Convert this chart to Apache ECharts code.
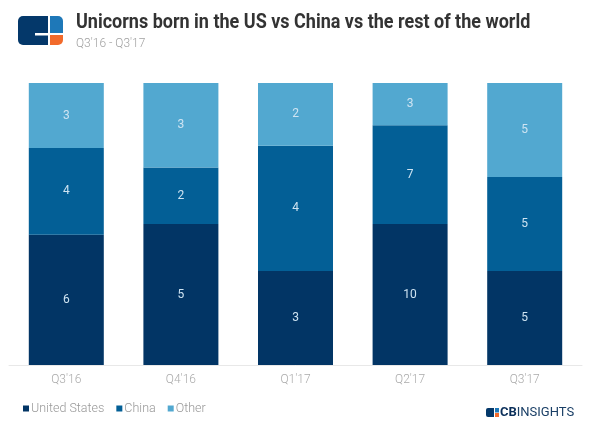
<!DOCTYPE html>
<html>
<head>
<meta charset="utf-8">
<script src="https://cdn.jsdelivr.net/npm/echarts@6/dist/echarts.min.js"></script>
<style>
html, body { margin: 0; padding: 0; background: #fff; }
#main { width: 600px; height: 435px; }
</style>
</head>
<body>
<div id="main"></div>
<script>
var quarters = ["Q3'16", "Q4'16", "Q1'17", "Q2'17", "Q3'17"];
var usValues = [6, 5, 3, 10, 5];
var chinaValues = [4, 2, 4, 7, 5];
var otherValues = [3, 3, 2, 3, 5];

var totals = quarters.map(function (q, i) {
    return usValues[i] + chinaValues[i] + otherValues[i];
});

// share of each quarter, so every bar fills the full height
function toShare(values) {
    return values.map(function (v, i) {
        return { value: v / totals[i], raw: v };
    });
}

var chart = echarts.init(document.getElementById('main'));

function makeSeries(name, values, color) {
    return {
        name: name,
        type: 'bar',
        stack: 'all',
        barWidth: 75,
        itemStyle: { color: color },
        label: {
            show: true,
            position: 'inside',
            color: '#cfe4f2',
            fontSize: 12,
            fontFamily: 'Roboto',
            formatter: function (p) { return p.data.raw; }
        },
        data: toShare(values)
    };
}

var option = {
    animation: false,
    textStyle: { fontFamily: 'Roboto' },
    grid: { left: 9, right: 18, top: 83, bottom: 70, containLabel: false },
    legend: {
        left: 18,
        top: 397,
        icon: 'rect',
        itemWidth: 6,
        itemHeight: 6,
        itemGap: 12,
        textStyle: { color: '#999', fontSize: 12.5, fontWeight: 300, fontFamily: 'Roboto', padding: [0, 0, 0, -3] },
        data: ['United States', 'China', 'Other']
    },
    xAxis: {
        type: 'category',
        data: quarters,
        axisLine: { lineStyle: { color: '#e8e8e8' } },
        axisTick: { show: false },
        axisLabel: { color: '#aaa', fontSize: 12, fontWeight: 300, margin: 9 }
    },
    yAxis: {
        type: 'value',
        min: 0,
        max: 1,
        show: false
    },
    series: [
        makeSeries('United States', usValues, '#023565'),
        makeSeries('China', chinaValues, '#035f96'),
        makeSeries('Other', otherValues, '#52a8d0')
    ],
    graphic: [
        // header logo
        { type: 'rect', shape: { x: 18, y: 16, width: 30, height: 29, r: [5, 0, 0, 5] }, style: { fill: '#04386a' } },
        { type: 'rect', shape: { x: 35, y: 33, width: 13, height: 2.5 }, style: { fill: '#fff' } },
        { type: 'rect', shape: { x: 50, y: 16, width: 13, height: 17, r: [0, 5, 0, 0] }, style: { fill: '#1e78b8' } },
        { type: 'rect', shape: { x: 50, y: 35, width: 13, height: 10, r: [0, 0, 5, 0] }, style: { fill: '#f26a2b' } },
        {
            // squeezed to look like the condensed face of the original
            type: 'text', x: 76, y: 13, scaleX: 0.9,
            style: {
                text: 'Unicorns born in the US vs China vs the rest of the world',
                fill: '#333', fontSize: 20, fontWeight: 'bold',
                fontFamily: 'Roboto'
            }
        },
        {
            type: 'text', x: 76, y: 37, scaleX: 0.92,
            style: { text: "Q3'16 - Q3'17", fill: '#a0a0a0', fontSize: 13, fontWeight: 300, fontFamily: 'Roboto' }
        },
        // footer logo
        { type: 'rect', shape: { x: 486, y: 408, width: 8, height: 9, r: [2, 0, 0, 2] }, style: { fill: '#04386a' } },
        { type: 'rect', shape: { x: 495, y: 408, width: 4, height: 4.5 }, style: { fill: '#1e78b8' } },
        { type: 'rect', shape: { x: 495, y: 413, width: 4, height: 4 }, style: { fill: '#f26a2b' } },
        {
            type: 'text', x: 500, y: 406,
            style: {
                rich: {
                    cb: { fontSize: 13, fontWeight: 'bold', fill: '#0b2f5a', fontFamily: 'Roboto' },
                    ins: { fontSize: 13, fill: '#1a3f66', fontFamily: 'Roboto' }
                },
                text: '{cb|CB}{ins|INSIGHTS}'
            }
        }
    ]
};

chart.setOption(option);
</script>
</body>
</html>
